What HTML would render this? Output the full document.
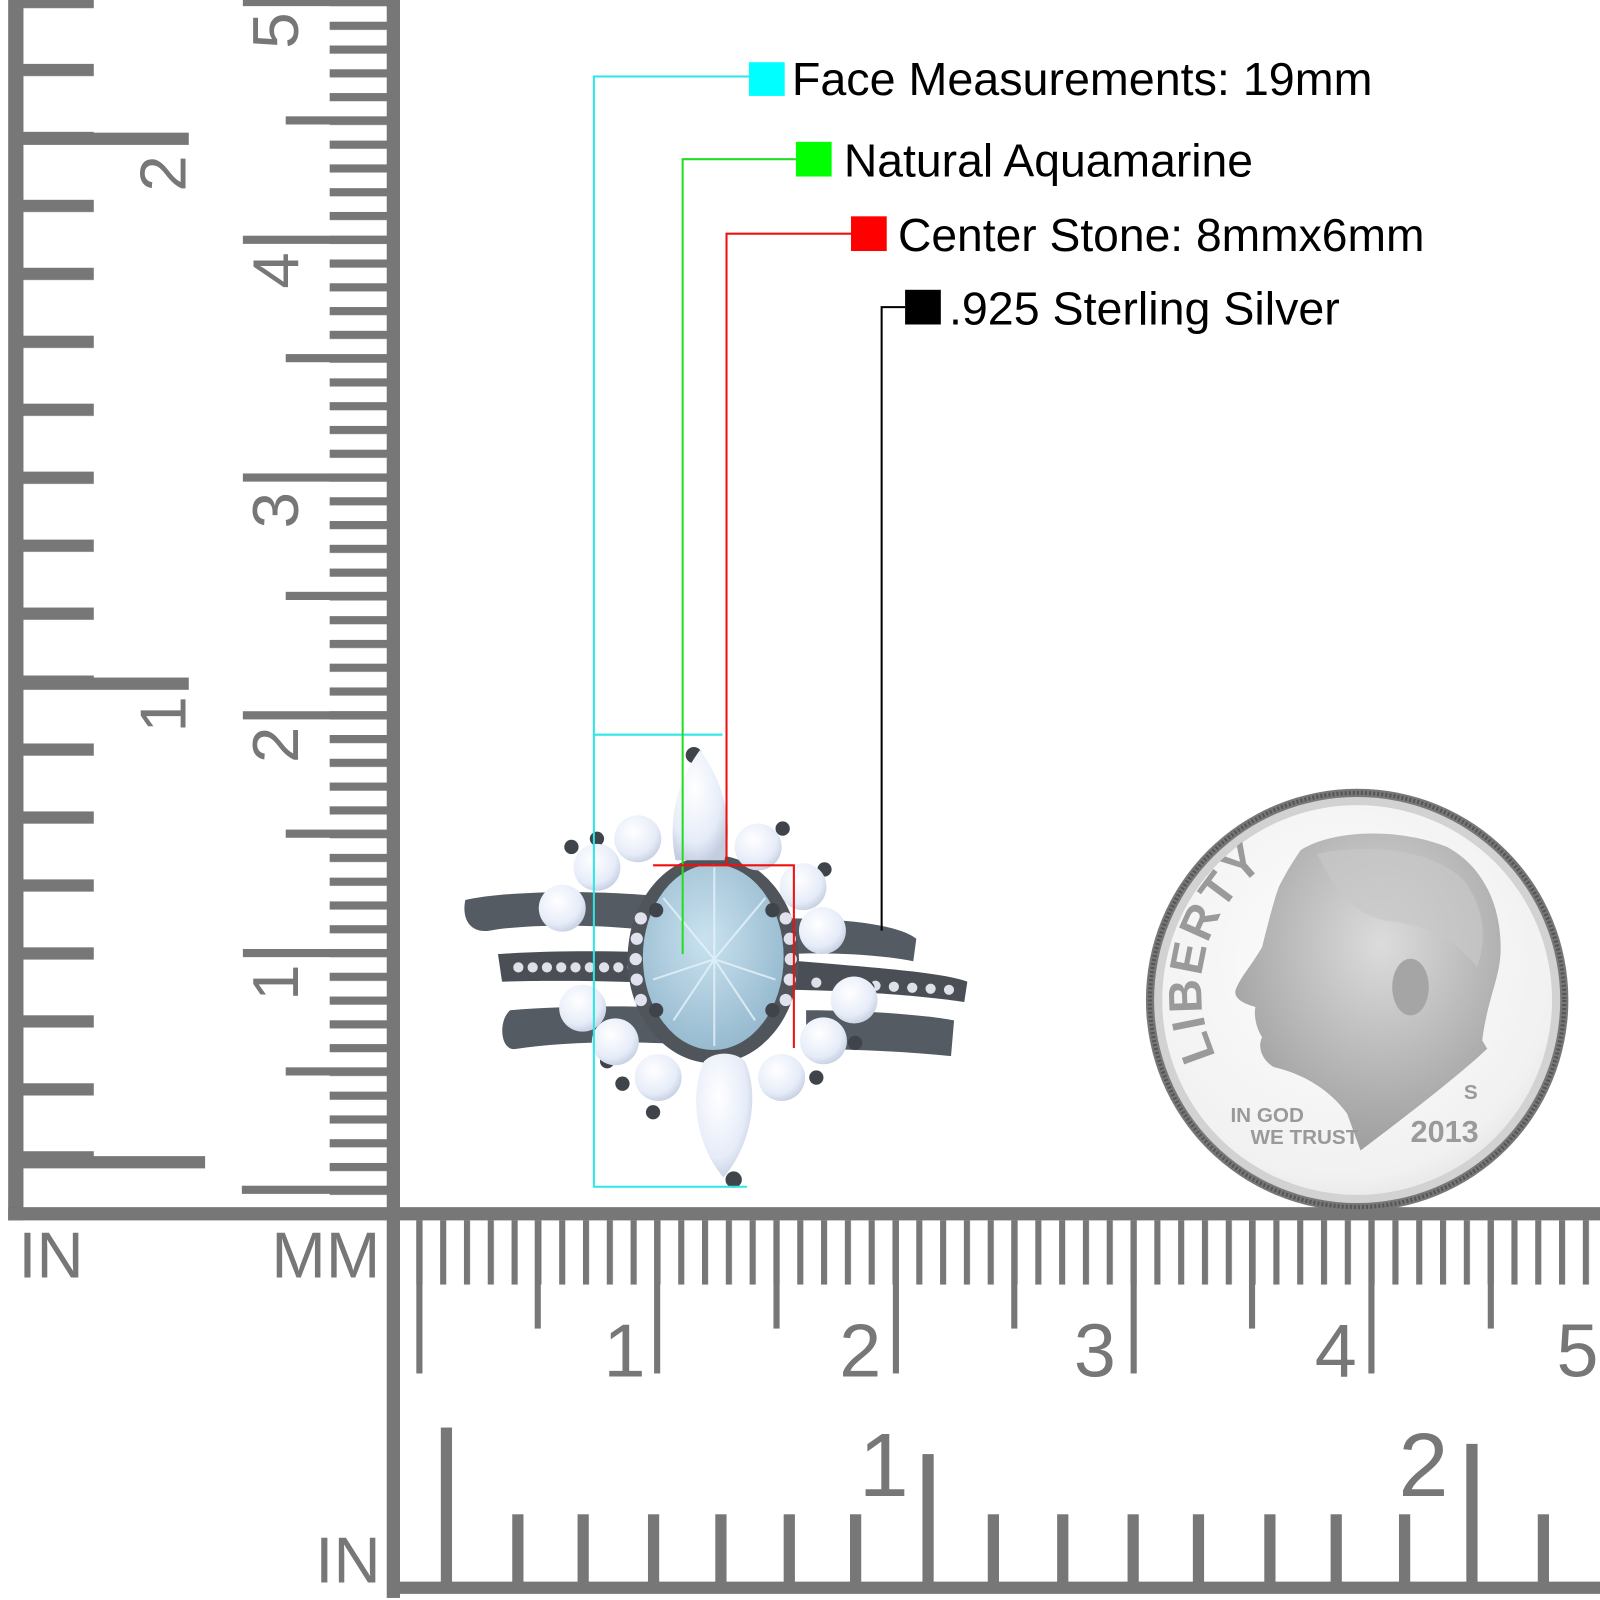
<!DOCTYPE html>
<html><head><meta charset="utf-8"><style>html,body{margin:0;padding:0;background:#fff}svg{display:block}</style></head>
<body>
<svg xmlns="http://www.w3.org/2000/svg" width="1600" height="1600" viewBox="0 0 1568 1568">
<defs>
<pattern id="pl" patternUnits="userSpaceOnUse" x="0" y="-4" width="1568" height="66.6"><rect x="22" y="0" width="70" height="12" fill="#777"/></pattern>
<pattern id="pm" patternUnits="userSpaceOnUse" x="0" y="-2" width="1568" height="23.3"><rect x="323" y="0" width="58" height="8" fill="#777"/></pattern>
<pattern id="pb" patternUnits="userSpaceOnUse" x="408" y="0" width="23.33" height="1568"><rect x="0" y="1196" width="6" height="63" fill="#777"/></pattern>
<radialGradient id="coin" cx="0.45" cy="0.4" r="0.7"><stop offset="0" stop-color="#fdfdfd"/><stop offset="0.8" stop-color="#f1f1f1"/><stop offset="1" stop-color="#dcdcdc"/></radialGradient>
<radialGradient id="head" cx="0.55" cy="0.35" r="0.7"><stop offset="0" stop-color="#dcdcdc"/><stop offset="1" stop-color="#9a9a9a"/></radialGradient>
<radialGradient id="opal" cx="0.4" cy="0.35" r="0.7"><stop offset="0" stop-color="#ffffff"/><stop offset="0.7" stop-color="#e6ecf8"/><stop offset="1" stop-color="#c3cde0"/></radialGradient>
<radialGradient id="aqua" cx="0.45" cy="0.4" r="0.7"><stop offset="0" stop-color="#c9e2ef"/><stop offset="1" stop-color="#8fb4ca"/></radialGradient>
<path id="libarc" d="M1192,1035 A150,150 0 0 1 1262,835"/>
</defs>

<!-- Left rulers -->
<rect x="8" y="0" width="15" height="1196" fill="#777"/>
<rect x="22" y="0" width="70" height="1185" fill="url(#pl)"/>
<rect x="22" y="130" width="163" height="12" fill="#777"/>
<rect x="22" y="664" width="163" height="12" fill="#777"/>
<rect x="22" y="1133" width="179" height="12" fill="#777"/>
<rect x="379" y="0" width="13" height="1566" fill="#777"/>
<rect x="323" y="0" width="58" height="1183" fill="url(#pm)"/>
<rect x="238" y="-2" width="142" height="8" fill="#777"/>
<rect x="280" y="114" width="100" height="8" fill="#777"/>
<rect x="238" y="231" width="142" height="8" fill="#777"/>
<rect x="280" y="347" width="100" height="8" fill="#777"/>
<rect x="238" y="464" width="142" height="8" fill="#777"/>
<rect x="280" y="580" width="100" height="8" fill="#777"/>
<rect x="238" y="697" width="142" height="8" fill="#777"/>
<rect x="280" y="813" width="100" height="8" fill="#777"/>
<rect x="238" y="930" width="142" height="8" fill="#777"/>
<rect x="280" y="1046" width="100" height="8" fill="#777"/>
<rect x="237" y="1162" width="143" height="8" fill="#777"/>
<g font-family="Liberation Sans, sans-serif" font-size="64" fill="#777">
<text transform="translate(182,170) rotate(-90)" text-anchor="middle">2</text>
<text transform="translate(182,700) rotate(-90)" text-anchor="middle">1</text>
<text transform="translate(292,30) rotate(-90)" text-anchor="middle">5</text>
<text transform="translate(292,265) rotate(-90)" text-anchor="middle">4</text>
<text transform="translate(292,500) rotate(-90)" text-anchor="middle">3</text>
<text transform="translate(292,730) rotate(-90)" text-anchor="middle">2</text>
<text transform="translate(292,963) rotate(-90)" text-anchor="middle">1</text>
<text x="18" y="1252">IN</text>
<text x="266" y="1252">MM</text>
<text x="309" y="1551">IN</text>
</g>

<!-- Bottom rulers -->
<rect x="8" y="1183" width="1560" height="13" fill="#777"/>
<rect x="392" y="1196" width="1176" height="63" fill="url(#pb)"/>
<g fill="#777">
<rect x="408" y="1196" width="6" height="150"/>
<rect x="524" y="1196" width="6" height="106"/>
<rect x="641" y="1196" width="6" height="150"/>
<rect x="758" y="1196" width="6" height="106"/>
<rect x="875" y="1196" width="6" height="150"/>
<rect x="991" y="1196" width="6" height="106"/>
<rect x="1108" y="1196" width="6" height="150"/>
<rect x="1224" y="1196" width="6" height="106"/>
<rect x="1341" y="1196" width="6" height="150"/>
<rect x="1458" y="1196" width="6" height="106"/>
<rect x="380" y="1550" width="1188" height="12"/>
<rect x="432" y="1399" width="11" height="155"/>
<rect x="904" y="1425" width="11" height="130"/>
<rect x="1437" y="1415" width="11" height="140"/>
<rect x="502" y="1484" width="11" height="70"/>
<rect x="566" y="1484" width="11" height="70"/>
<rect x="635" y="1484" width="11" height="70"/>
<rect x="701" y="1484" width="11" height="70"/>
<rect x="768" y="1484" width="11" height="70"/>
<rect x="833" y="1484" width="11" height="70"/>
<rect x="968" y="1484" width="11" height="70"/>
<rect x="1036" y="1484" width="11" height="70"/>
<rect x="1105" y="1484" width="11" height="70"/>
<rect x="1169" y="1484" width="11" height="70"/>
<rect x="1239" y="1484" width="11" height="70"/>
<rect x="1304" y="1484" width="11" height="70"/>
<rect x="1371" y="1484" width="11" height="70"/>
<rect x="1507" y="1484" width="11" height="70"/>
</g>
<g font-family="Liberation Sans, sans-serif" font-size="74" fill="#777" text-anchor="middle">
<text x="612" y="1349">1</text>
<text x="843" y="1349">2</text>
<text x="1073" y="1349">3</text>
<text x="1309" y="1349">4</text>
<text x="1546" y="1349">5</text>
<text x="866" y="1466" font-size="88">1</text>
<text x="1395" y="1466" font-size="88">2</text>
</g>

<!-- Dime -->
<circle cx="1330" cy="980" r="207" fill="#777"/>
<circle cx="1330" cy="980" r="203" fill="none" stroke="#555" stroke-width="4" stroke-dasharray="2 2"/>
<circle cx="1330" cy="980" r="199" fill="#d2d2d2"/>
<circle cx="1330" cy="980" r="191" fill="url(#coin)"/>
<g transform="translate(1107.8,764.7) scale(0.3268)">
<path d="M510,210 C600,150 800,140 950,200 C1060,260 1115,380 1110,520 C1105,600 1070,660 1055,780 L1070,805 C990,880 850,990 690,1110 L650,1000 C600,930 520,880 430,860 C395,840 380,800 395,770 C375,740 370,700 375,680 C340,670 310,655 315,630 C330,590 360,560 395,500 C410,440 430,360 445,320 C470,270 490,240 510,210 Z" fill="url(#head)"/>
<path d="M560,220 C700,190 900,200 1000,300 C1060,380 1070,470 1040,560 C980,480 880,430 760,420 C680,400 620,350 560,220 Z" fill="#c8c8c8" opacity="0.7"/>
<ellipse cx="840" cy="620" rx="55" ry="85" fill="#a5a5a5"/>
<g font-family="Liberation Sans, sans-serif" font-weight="bold" fill="#9a9a9a">
<text x="300" y="1025" font-size="62">IN GOD</text>
<text x="360" y="1090" font-size="62">WE TRUST</text>
<text x="840" y="1085" font-size="92">2013</text>
<text x="1000" y="955" font-size="62">S</text>
</g>
</g>
<text font-family="Liberation Sans, sans-serif" font-weight="bold" font-size="46" fill="#9a9a9a" letter-spacing="2"><textPath href="#libarc">LIBERTY</textPath></text>

<!-- Ring: bands -->
<g>
<path d="M456,882 C500,872 600,872 660,880 L660,915 C600,905 520,905 480,912 C462,915 452,902 456,882 Z" fill="#555b62"/>
<path d="M770,900 C820,900 880,905 898,920 L895,942 C860,935 810,933 770,935 Z" fill="#555b62"/>
<path d="M488,935 C560,930 660,932 760,940 C850,948 920,952 948,962 L945,982 C900,975 820,970 760,970 C660,962 560,960 492,962 Z" fill="#4a4f56"/>
<g fill="#dfe0ea">
<circle cx="508" cy="948" r="5"/><circle cx="522" cy="948" r="5"/><circle cx="536" cy="948" r="5"/><circle cx="550" cy="948" r="5"/><circle cx="564" cy="948" r="5"/><circle cx="578" cy="948" r="5"/><circle cx="592" cy="948" r="5"/><circle cx="606" cy="948" r="5"/><circle cx="620" cy="948" r="5"/>
<circle cx="800" cy="963" r="5"/><circle cx="840" cy="965" r="5"/><circle cx="858" cy="966" r="5"/><circle cx="876" cy="967" r="5"/><circle cx="894" cy="968" r="5"/><circle cx="912" cy="969" r="5"/><circle cx="930" cy="970" r="5"/>
</g>
<path d="M500,990 C560,985 640,985 700,990 L700,1025 C620,1020 560,1020 505,1028 C490,1030 488,1000 500,990 Z" fill="#555b62"/>
<path d="M790,990 C850,990 910,995 935,1000 L932,1035 C880,1030 830,1028 790,1028 Z" fill="#555b62"/>
</g>
<!-- Halo -->
<ellipse cx="699" cy="940" rx="84" ry="102" fill="#50555c"/>
<g fill="#e2e2ee">
<circle cx="628" cy="900" r="6"/><circle cx="624" cy="920" r="6"/><circle cx="623" cy="940" r="6"/><circle cx="624" cy="960" r="6"/><circle cx="628" cy="980" r="6"/>
<circle cx="770" cy="900" r="6"/><circle cx="774" cy="920" r="6"/><circle cx="775" cy="940" r="6"/><circle cx="774" cy="960" r="6"/><circle cx="770" cy="980" r="6"/>
</g>
<ellipse cx="699" cy="938" rx="69" ry="91" fill="url(#aqua)"/>
<g stroke="#e6f3fa" stroke-width="2" fill="none" opacity="0.8">
<path d="M650,880 L700,940 L750,880 M640,960 L700,940 L760,960 M700,850 L700,1025 M660,1000 L700,940 L740,1000"/>
</g>
<g fill="#3f444a">
<circle cx="680" cy="740" r="8"/><circle cx="719" cy="1156" r="8"/>
<circle cx="585" cy="822" r="7"/><circle cx="560" cy="830" r="7"/><circle cx="556" cy="878" r="7"/><circle cx="767" cy="812" r="7"/><circle cx="808" cy="852" r="7"/>
<circle cx="850" cy="968" r="7"/><circle cx="838" cy="1022" r="7"/><circle cx="800" cy="1056" r="7"/><circle cx="610" cy="1062" r="7"/><circle cx="640" cy="1090" r="7"/><circle cx="595" cy="1040" r="7"/>
<circle cx="643" cy="892" r="7"/><circle cx="757" cy="892" r="7"/><circle cx="643" cy="990" r="7"/><circle cx="757" cy="990" r="7"/>
</g>
<g fill="url(#opal)">
<path d="M686,735 C660,770 655,810 662,843 L710,843 C718,810 712,770 686,735 Z"/>
<path d="M709,1154 C680,1120 676,1070 690,1040 C700,1030 720,1030 730,1040 C744,1070 738,1120 709,1154 Z"/>
<circle cx="625" cy="822" r="23"/><circle cx="585" cy="850" r="23"/><circle cx="551" cy="890" r="23"/><circle cx="571" cy="988" r="23"/><circle cx="603" cy="1021" r="23"/><circle cx="645" cy="1056" r="23"/>
<circle cx="766" cy="1056" r="23"/><circle cx="807" cy="1020" r="23"/><circle cx="837" cy="980" r="23"/><circle cx="806" cy="912" r="23"/><circle cx="787" cy="869" r="23"/><circle cx="743" cy="830" r="23"/>
</g>

<!-- Callout lines -->
<g fill="none" stroke-width="2">
<path d="M735,75 H582 V1163 H732 M582,720 H708" stroke="#2ee6e6"/>
<path d="M780,156 H669 V935" stroke="#22dd22"/>
<path d="M835,229 H712 V848 M640,848 H778 V1027" stroke="#ee1111"/>
<path d="M887,301 H864 V912" stroke="#000"/>
</g>
<rect x="734" y="61" width="35" height="33" fill="#00ffff"/>
<rect x="780" y="139" width="35" height="34" fill="#00ff00"/>
<rect x="834" y="212" width="35" height="34" fill="#ff0000"/>
<rect x="887" y="284" width="35" height="34" fill="#000"/>
<g font-family="Liberation Sans, sans-serif" font-size="45" fill="#000">
<text x="776" y="93" textLength="569" lengthAdjust="spacingAndGlyphs">Face Measurements: 19mm</text>
<text x="827" y="173" textLength="401" lengthAdjust="spacingAndGlyphs">Natural Aquamarine</text>
<text x="880" y="246" textLength="516" lengthAdjust="spacingAndGlyphs">Center Stone: 8mmx6mm</text>
<text x="930" y="318" textLength="383" lengthAdjust="spacingAndGlyphs">.925 Sterling Silver</text>
</g>
</svg>
</body></html>
